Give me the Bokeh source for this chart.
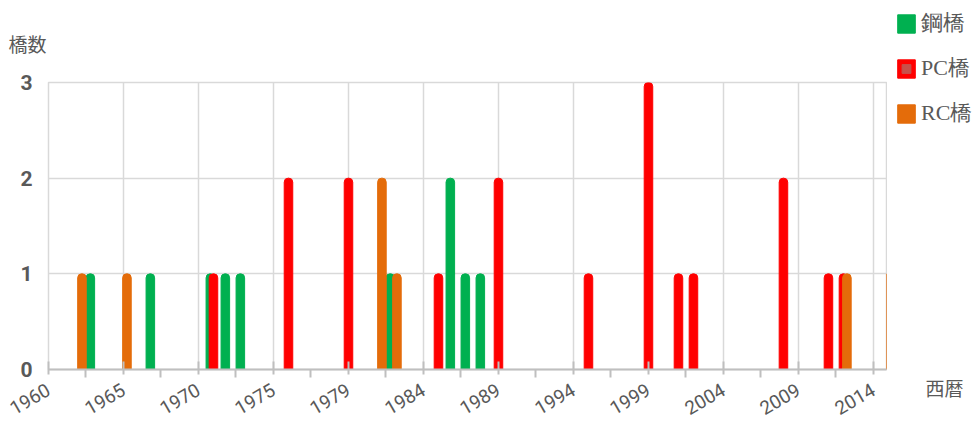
import math
from bokeh.plotting import figure
from bokeh.layouts import row
from bokeh.models import FixedTicker, Legend, LegendItem, Label, Range1d, ColumnDataSource
from bokeh.transform import dodge
from bokeh.embed import file_html
from bokeh.resources import INLINE

# ---- data ----
steel_years = [1962, 1966, 1970, 1971, 1972, 1982, 1986, 1987, 1988]
steel_counts = [1, 1, 1, 1, 1, 1, 2, 1, 1]
pc_years = [1970, 1975, 1979, 1985, 1989, 1995, 1999, 2001, 2002, 2008, 2011, 2012]
pc_counts = [1, 2, 2, 1, 2, 1, 3, 1, 1, 2, 1, 1]
rc_years = [1961, 1964, 1981, 1982, 2012, 2015]
rc_counts = [1, 1, 2, 1, 1, 1]

tick_years = [1959, 1964, 1969, 1974, 1979, 1984, 1989, 1994, 1999, 2004, 2009, 2014]
tick_labels = ["1960", "1965", "1970", "1975", "1979", "1984", "1989", "1994",
               "1999", "2004", "2009", "2014"]
y_ticks = [0, 1, 2, 3]

series_names = ["鋼橋", "PC橋", "RC橋"]
y_title = "橋数"
x_title = "西暦"
GREEN, RED, ORANGE = "#00B050", "#FF0000", "#E46C0A"
GRID = "#D9D9D9"
TXT = "#595959"

src_s = ColumnDataSource(dict(x=steel_years, y=steel_counts))
src_p = ColumnDataSource(dict(x=pc_years, y=pc_counts))
src_r = ColumnDataSource(dict(x=rc_years, y=rc_counts))

# ---------------- main chart ----------------
p = figure(width=887, height=424,
           x_range=Range1d(1959, 2014.87), y_range=Range1d(0, 3),
           output_backend="svg", toolbar_location=None,
           min_border_left=48, min_border_right=1,
           min_border_top=82, min_border_bottom=54)
p.frame_align = False

p.outline_line_color = GRID
p.outline_line_width = 1.5

bw = 0.57
p.vbar(x=dodge("x", -0.21), top="y", bottom=0, width=bw,
       color=GREEN, border_radius=(4, 4, 0, 0), source=src_s)
p.vbar(x=dodge("x", 0.0), top="y", bottom=0, width=bw,
       color=RED, border_radius=(4, 4, 0, 0), source=src_p)
p.vbar(x=dodge("x", 0.23), top="y", bottom=0, width=bw,
       color=ORANGE, border_radius=(4, 4, 0, 0), source=src_r)

# x axis
xt = FixedTicker(ticks=tick_years, minor_ticks=[t + 2.5 for t in tick_years])
p.xaxis.ticker = xt
p.xaxis.major_label_overrides = {t: l for t, l in zip(tick_years, tick_labels)}
p.xaxis.major_label_orientation = math.radians(30)
p.xaxis.major_label_text_font = "Roboto"
p.xaxis.major_label_text_font_size = "19px"
p.xaxis.major_label_text_color = TXT
p.xaxis.major_label_standoff = 11
p.xaxis.axis_line_color = "#BFBFBF"
p.xaxis.axis_line_width = 2
p.xaxis.major_tick_line_color = "#BFBFBF"
p.xaxis.major_tick_line_width = 2
p.xaxis.major_tick_in = 8
p.xaxis.major_tick_out = 5
p.xaxis.minor_tick_line_color = "#BFBFBF"
p.xaxis.minor_tick_line_width = 2
p.xaxis.minor_tick_in = 0
p.xaxis.minor_tick_out = 8

# y axis
p.yaxis.ticker = FixedTicker(ticks=y_ticks)
p.yaxis.major_label_text_font = "Roboto"
p.yaxis.major_label_text_font_style = "bold"
p.yaxis.major_label_text_font_size = "21px"
p.yaxis.major_label_text_color = TXT
p.yaxis.axis_line_color = None
p.yaxis.major_tick_line_color = None
p.yaxis.minor_tick_line_color = None
p.yaxis.major_tick_in = 0
p.yaxis.major_tick_out = 0
p.yaxis.major_label_standoff = 16

p.xgrid.ticker = xt
p.xgrid.grid_line_color = GRID
p.xgrid.grid_line_width = 1.5
p.ygrid.grid_line_color = GRID
p.ygrid.grid_line_width = 1.5

# y-axis title as the plot title, top-left
p.title.text = y_title
p.title.align = "left"
p.title.offset = -40
p.title.standoff = 52
p.title.text_font = "Noto Sans CJK JP"
p.title.text_font_size = "19px"
p.title.text_font_style = "normal"
p.title.text_color = TXT

# ---------------- right strip: legend + x-axis title ----------------
q = figure(width=92, height=424, x_range=Range1d(0, 92), y_range=Range1d(0, 424),
           title=None, output_backend="svg", toolbar_location=None,
           min_border=0, min_border_left=0, min_border_right=0,
           min_border_top=0, min_border_bottom=0,
           x_axis_type=None, y_axis_type=None)
q.frame_align = False
q.outline_line_color = None
q.grid.visible = False

# same series drawn here only to feed the legend (they fall outside this strip's range)
g_s = q.vbar(x="x", top="y", width=1, color=GREEN, border_radius=3, source=src_s)
g_p = q.vbar(x="x", top="y", width=1, color=RED, border_radius=3, source=src_p)
g_m = q.scatter(x="x", y="y", marker="square", color="#C8504A", source=src_p)
g_r = q.vbar(x="x", top="y", width=1, color=ORANGE, border_radius=3, source=src_r)

legend = Legend(items=[LegendItem(label=series_names[0], renderers=[g_s]),
                       LegendItem(label=series_names[1], renderers=[g_p, g_m]),
                       LegendItem(label=series_names[2], renderers=[g_r])],
                location="top_left", orientation="vertical",
                glyph_width=22, glyph_height=23, label_height=26,
                label_text_font="Liberation Serif", label_text_font_size="22px",
                label_text_color=TXT, label_standoff=4, spacing=15,
                padding=0, margin=8, border_line_color=None,
                background_fill_alpha=0)
q.add_layout(legend)

q.add_layout(Label(x=38, y=37.5, text=x_title, text_baseline="middle",
                   text_font="Noto Sans CJK JP", text_font_size="19px",
                   text_color=TXT))

layout = row(p, q, spacing=0)
open("out.html", "w").write(file_html(layout, INLINE))
